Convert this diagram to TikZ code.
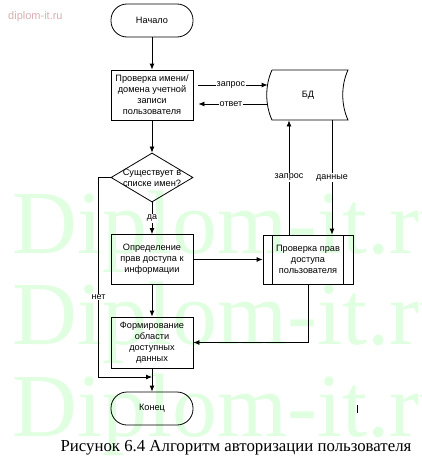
\documentclass[tikz,border=0pt]{standalone}
\usepackage{fontspec}
\setmainfont{Liberation Serif}
\setsansfont{Liberation Sans}
\usetikzlibrary{arrows.meta,shapes.geometric}

\tikzset{
  blk/.style={draw, line width=0.8pt, minimum width=82pt, minimum height=50pt, align=center, inner sep=1pt, font=\sffamily\fontsize{9.2}{11}\selectfont},
  term/.style={blk, minimum height=33pt, rounded corners=16pt},
  arr/.style={line width=0.8pt, -{Latex[length=6pt,width=5pt]}},
  lbl/.style={fill=white, inner sep=1pt, font=\sffamily\fontsize{9}{10}\selectfont},
  wm/.style={anchor=base west, text=green!12, inner sep=0pt, font=\fontsize{90}{90}\selectfont}
}

\begin{document}
\begin{tikzpicture}[x=1pt, y=-1pt]
            \useasboundingbox (0,0) rectangle (421,460);
            \node[wm] (wm1) at (12,253) {Diplom-it.ru};
            \node[wm] (wm2) at (12,344) {Diplom-it.ru};
            \node[wm] (wm3) at (12,436) {Diplom-it.ru};
            \node[text={rgb,255:red,215;green,175;blue,175}, font=\sffamily\fontsize{11}{11}\selectfont, anchor=west, inner sep=0pt] (site) at (8,17) {diplom-it.ru};

            \node[term] (start) at (152,20.5) {Начало};
            \node[blk] (b1) at (152,95) {Проверка имени/\\домена учетной\\записи\\пользователя};
            \node[draw, diamond, line width=0.8pt, minimum width=82pt, minimum height=49pt, inner sep=0pt,
                  label={[align=center, font=\sffamily\fontsize{9.2}{11}\selectfont]center:Существует в\\списке имен?}] (d1) at (152,177.5) {};
            \node[blk] (b2) at (152,259.5) {Определение\\прав доступа к\\информации};
            \node[blk, minimum width=90pt, minimum height=49pt] (b3) at (308,259.5) {Проверка прав\\доступа\\пользователя};
            \draw[line width=0.8pt] ([xshift=10pt]b3.north west) -- ([xshift=10pt]b3.south west);
            \draw[line width=0.8pt] ([xshift=-10pt]b3.north east) -- ([xshift=-10pt]b3.south east);
            \node[blk, minimum height=51pt] (b4) at (152,342.5) {Формирование\\области\\доступных\\данных};
            \node[term] (end) at (152,408.5) {Конец};

            \draw[line width=0.8pt] (272,70) -- (348,70) .. controls (341,85) and (341,105) .. (348,120)
                 -- (272,120) .. controls (265,105) and (265,85) .. (272,70);
            \node[blk, draw=none, minimum width=80pt] (db) at (308,95) {БД};

            \draw[arr] (start) -- (b1);
            \draw[arr] (b1) -- (d1);
            \draw[arr] (d1) -- (b2) node[lbl, pos=0.5] (yes) {да};
            \draw[arr] ([shift={(5,-10)}]b1.east) -- ([yshift=10pt]db.west) node[lbl, pos=0.47] (q1) {запрос};
            \draw[arr] ([yshift=-9pt]db.west) -- ([shift={(5,9)}]b1.east) node[lbl, pos=0.53] (a1) {ответ};
            \draw[arr] (b2) -- (b4);
            \draw[arr] (b2) -- (b3);
            \draw[arr] ([xshift=-19pt]b3.north) -- ([xshift=-19pt]db.south) node[lbl, pos=0.5] (q2) {запрос};
            \draw[arr] ([xshift=24pt]db.south) -- ([xshift=24pt]b3.north) node[lbl, pos=0.5] (dt) {данные};
            \draw[arr] (b3.south) |- (b4.east);
            \coordinate (nj) at (152,377);
            \draw[arr] (d1.west) -- ++(-12,0) coordinate (nt) |- (nj);
            \node[lbl] (no) at (nt |- 0,297) {нет};
            \draw[arr] (b4) -- (end);

            \draw[line width=1.3pt] (357.5,405) -- (357.5,413);
            \node[font=\fontsize{16.8}{17}\selectfont, anchor=base, inner sep=0pt] (cap) at (236,451) {Рисунок 6.4 Алгоритм авторизации пользователя};
        \end{tikzpicture}
\end{document}
